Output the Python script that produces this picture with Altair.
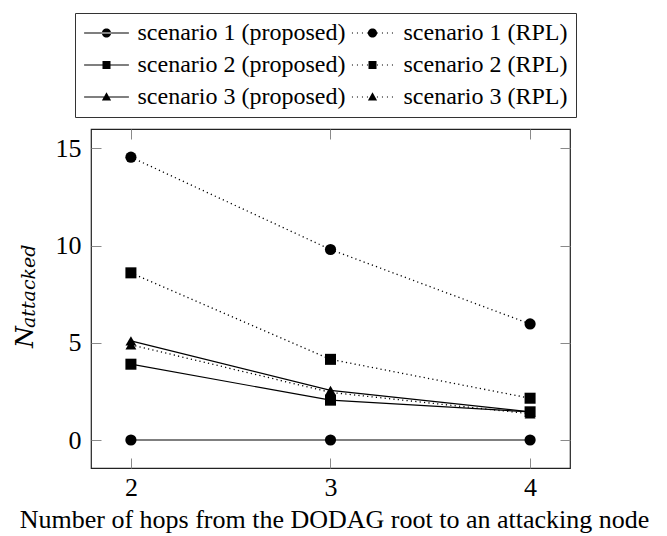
import altair as alt
import pandas as pd

# ---- data ----
hops = [2, 3, 4]
series_names = [
    "scenario 1 (proposed)", "scenario 1 (RPL)",
    "scenario 2 (proposed)", "scenario 2 (RPL)",
    "scenario 3 (proposed)", "scenario 3 (RPL)",
]
s1_proposed = [0.0, 0.0, 0.0]
s1_rpl = [14.55, 9.8, 5.97]
s2_proposed = [3.9, 2.05, 1.45]
s2_rpl = [8.6, 4.15, 2.15]
s3_proposed = [5.1, 2.55, 1.45]
s3_rpl = [4.9, 2.45, 1.35]
markers = ["circle", "circle", "square", "square", "triangle-up", "triangle-up"]
kinds = ["proposed", "RPL", "proposed", "RPL", "proposed", "RPL"]
x_ticks = [2, 3, 4]
y_ticks = [0, 5, 10, 15]
x_title = "Number of hops from the DODAG root to an attacking node"
y_title_main = "N"
y_title_sub = "attacked"

all_values = [s1_proposed, s1_rpl, s2_proposed, s2_rpl, s3_proposed, s3_rpl]
rows = []
for name, vals, mk, kd in zip(series_names, all_values, markers, kinds):
    for h, v in zip(hops, vals):
        rows.append({"series": name, "hops": h, "n": v, "marker": mk, "kind": kd})
df = pd.DataFrame(rows)

FONT = "Liberation Serif"
MATH_FONT = "DejaVu Serif"
TICK = "#8a8a8a"

# ---- legend glyphs (line + marker) as filled custom SVG symbol paths ----
HALF = 5.6   # half length of the legend line, in symbol units (1 unit = 4 px)
TH = 0.15    # half thickness of the line
solid_line = f"M {-HALF} {-TH} L {HALF} {-TH} L {HALF} {TH} L {-HALF} {TH} Z "
dot_parts = []
k = 1
while 1.25 * k + 0.15 <= HALF:
    for sgn in (-1, 1):
        cx = sgn * 1.25 * k
        dot_parts.append(f"M {cx - 0.14} -0.14 L {cx + 0.14} -0.14 L {cx + 0.14} 0.14 L {cx - 0.14} 0.14 Z ")
    k += 1
dotted_line = "".join(dot_parts)
marker_glyph = {
    "circle": "M -1.15 0 A 1.15 1.15 0 1 0 1.15 0 A 1.15 1.15 0 1 0 -1.15 0 Z",
    "square": "M -1 -1 L 1 -1 L 1 1 L -1 1 Z",
    "triangle-up": "M 0 -1.2 L 1.15 0.85 L -1.15 0.85 Z",
}
line_for_kind = {"proposed": solid_line, "RPL": dotted_line}

# legend fills column by column: proposed entries in column 1, RPL in column 2
legend_order = series_names[0::2] + series_names[1::2]
legend_paths = []
for s in legend_order:
    i = series_names.index(s)
    legend_paths.append(line_for_kind[kinds[i]] + marker_glyph[markers[i]])

xscale = alt.Scale(domain=[1.8, 4.2], nice=False, zero=False)
yscale = alt.Scale(domain=[-1.44, 16.0], nice=False, zero=False)

ax_bottom = alt.Axis(orient="bottom", values=x_ticks, tickSize=10, offset=-10, domain=False,
                     grid=False, tickColor=TICK, labelFont=FONT, labelFontSize=26,
                     labelColor="black", labelPadding=6, title=x_title, titleFont=FONT,
                     titleFontSize=26, titleFontWeight="normal", titleColor="black",
                     titleY=69, titleX=243, titleBaseline="alphabetic", format="d")
ax_top = alt.Axis(orient="top", values=x_ticks, tickSize=10, offset=-10, domain=False,
                  grid=False, tickColor=TICK, labels=False, title="")
ax_left = alt.Axis(orient="left", values=y_ticks, tickSize=10, offset=-10, domain=False,
                   grid=False, tickColor=TICK, labelFont=FONT, labelFontSize=26,
                   labelColor="black", labelPadding=10, title="", format="d")
ax_right = alt.Axis(orient="right", values=y_ticks, tickSize=10, offset=-10, domain=False,
                    grid=False, tickColor=TICK, labels=False, title="")

base = alt.Chart(df)

solid = base.transform_filter("datum.kind == 'proposed'").mark_line(
    color="black", strokeWidth=1.2
).encode(
    x=alt.X("hops:Q", scale=xscale, axis=ax_bottom),
    y=alt.Y("n:Q", scale=yscale, axis=ax_left),
    detail="series:N",
)

dotted = base.transform_filter("datum.kind == 'RPL'").mark_line(
    color="black", strokeWidth=1.3, strokeDash=[1.2, 3.2]
).encode(
    x=alt.X("hops:Q", scale=xscale, axis=ax_top),
    y=alt.Y("n:Q", scale=yscale, axis=ax_right),
    detail="series:N",
)

points = base.mark_point(filled=True, color="black", opacity=1).encode(
    x=alt.X("hops:Q", scale=xscale, axis=None),
    y=alt.Y("n:Q", scale=yscale, axis=None),
    shape=alt.Shape("marker:N", scale=None),
    size=alt.Size("marker:N", scale=alt.Scale(domain=["circle", "square", "triangle-up"],
                                              range=[125, 118, 140]), legend=None),
)

leg = alt.Legend(
    title=None, orient="none", legendX=-16, legendY=-116, columns=2,
    strokeColor="#333", padding=8, rowPadding=8, columnPadding=3,
    labelFont=FONT, labelFontSize=24, labelColor="black", labelLimit=500,
    symbolSize=64, symbolOffset=11.5, labelOffset=19,
    symbolFillColor="black", symbolStrokeWidth=0, symbolOpacity=1, fillColor="white",
)

legend_layer = base.transform_filter("false").mark_point(filled=True, color="black").encode(
    x=alt.X("hops:Q", scale=xscale, axis=None),
    y=alt.Y("n:Q", scale=yscale, axis=None),
    shape=alt.Shape("series:N", scale=alt.Scale(domain=legend_order, range=legend_paths),
                    legend=leg, sort=legend_order),
)

ytitle_n = alt.Chart(pd.DataFrame({"t": [y_title_main]})).mark_text(
    angle=270, align="left", baseline="alphabetic", font=MATH_FONT, fontStyle="italic",
    fontSize=25, color="black"
).encode(x=alt.value(-58), y=alt.value(219), text="t:N")

ytitle_sub = alt.Chart(pd.DataFrame({"t": [y_title_sub]})).mark_text(
    angle=270, align="left", baseline="alphabetic", font=MATH_FONT, fontStyle="italic",
    fontSize=19, color="black"
).encode(x=alt.value(-56), y=alt.value(199), text="t:N")

chart = alt.layer(solid, dotted, points, legend_layer, ytitle_n, ytitle_sub).resolve_axis(
    x="independent", y="independent"
).properties(
    width=479, height=339,
    padding={"left": 83, "top": 121, "right": 89, "bottom": 66},
    autosize=alt.AutoSizeParams(type="none"),
).configure_view(stroke="#222", strokeWidth=1.2)

chart.save("out.html", embed_options={"renderer": "svg", "actions": False})
